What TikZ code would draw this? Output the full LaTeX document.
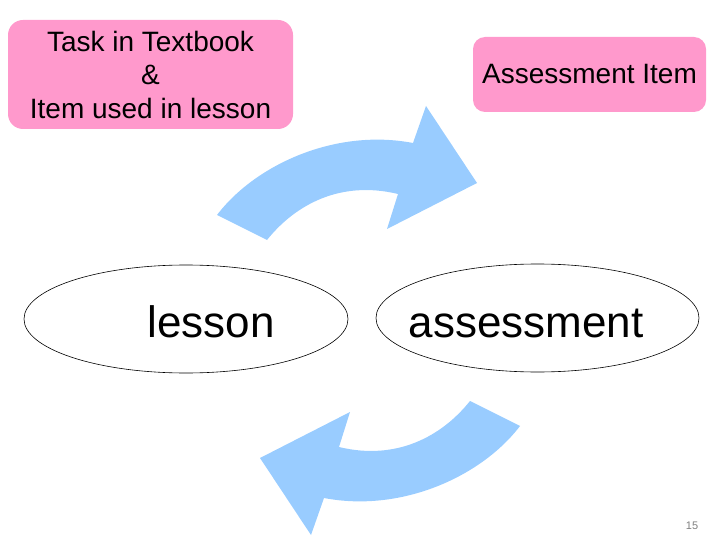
\documentclass[tikz,border=0pt]{standalone}
\usepackage{fontspec}
\setmainfont{Liberation Sans}
\usetikzlibrary{shapes.geometric}

\definecolor{cardpink}{HTML}{FF99CC}
\definecolor{arrowblue}{HTML}{99CCFF}

\tikzset{
  card/.style={fill=cardpink, rounded corners=12pt, align=center, inner sep=0pt,
    font=\fontsize{28}{33.5}\selectfont},
  ring/.style={draw, ellipse, line width=0.6pt, inner sep=0pt,
    minimum width=324pt, minimum height=108pt},
  word/.style={anchor=base, font=\fontsize{44}{52}\selectfont},
  cyclearrow/.style={fill=arrowblue},
}

\begin{document}
\begin{tikzpicture}[x=1pt, y=-1pt]
      \useasboundingbox (0,0) rectangle (720,540);
      \node[card, rounded corners=15pt, minimum width=285pt, minimum height=109pt] (task) at (150.5, 74.5)
        {Task in Textbook\\\&\\Item used in lesson};
      \node[card, minimum width=233pt, minimum height=75pt] (item) at (589.5, 74.5) {Assessment Item};
      \node[ring] (lessonring) at (186, 319) {};
      \node[ring, minimum width=323pt] (assessring) at (537.5, 318) {};
      \node[word] (lessonword) at (211, 337) {lesson};
      \node[word] (assessword) at (526, 337) {assessment};
      \fill[cyclearrow] (217,215) .. controls (255,165) and (335,128) .. (413,143) -- (426,106) -- (477,183)
        -- (387,229) -- (398,194) .. controls (340,180) and (295,205) .. (267,240) -- cycle;
      \fill[cyclearrow] (520,426) .. controls (482,476) and (402,513) .. (324,498) -- (311,535) -- (260,458)
        -- (350,412) -- (339,447) .. controls (397,461) and (442,436) .. (470,401) -- cycle;
      \node[anchor=center, text=gray, font=\fontsize{11}{13}\selectfont] (page) at (692, 526) {15};
\end{tikzpicture}
\end{document}
